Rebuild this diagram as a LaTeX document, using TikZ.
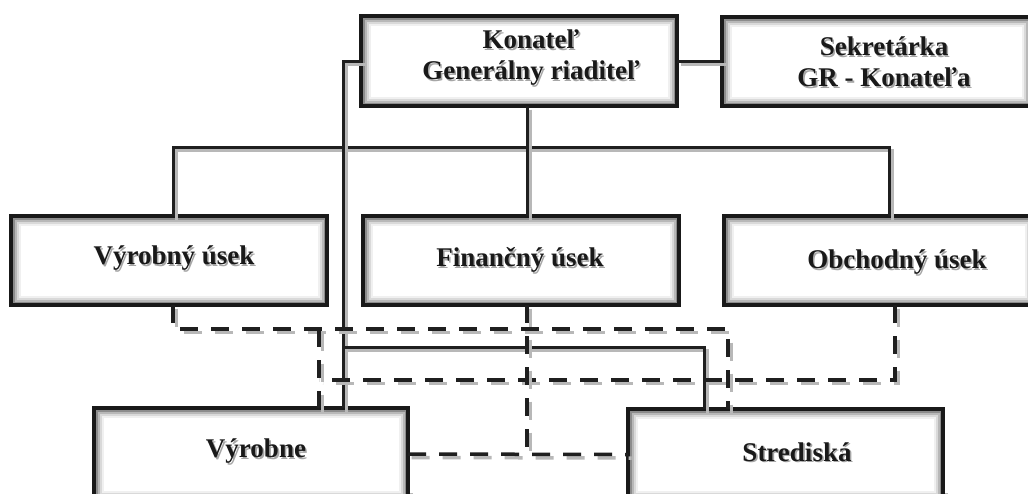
\documentclass[tikz,border=0pt]{standalone}
\usepackage{fontspec}
\setmainfont{Liberation Serif}
\usetikzlibrary{calc,backgrounds}
\tikzset{
  orgbox/.style={draw=black!90, line width=3.5pt, fill=white, inner sep=0pt, outer sep=0pt, anchor=north west,
    path picture={
      \foreach \i/\c in {2.5/45,4.5/28,6.5/15,8.5/6}{
        \draw[line width=2pt, black!\c]
          ([shift={(\i pt,-\i pt)}]path picture bounding box.north west) rectangle
          ([shift={(-\i pt,\i pt)}]path picture bounding box.south east);
      }}},
  txt/.style={font=\fontsize{27}{31}\selectfont\bfseries, align=center, inner sep=0pt},
  solidln/.style={line width=3pt, draw=black!88},
  dashln/.style={line width=3.5pt, draw=black!88, dash pattern=on 18pt off 13pt},
  shd/.style={draw=black!28, transform canvas={shift={(3.5pt,-3.5pt)}}},
  boxshd/.style={draw=black!28, line width=3.5pt, transform canvas={shift={(3pt,-3pt)}}},
}
\newcommand{\boxlabel}[3]{%
  \node[txt,text=black!35] at ([shift={(1.6pt,-1.6pt)}]#2) {#3};
  \node[txt,text=black!90] (#1) at (#2) {#3};}
\newcommand{\conn}[2]{\draw[#1,shd] #2; \draw[#1] #2;}
\begin{document}
\begin{tikzpicture}[x=1pt,y=-1pt]
\useasboundingbox (0,0) rectangle (1028,493);
\clip (0,0) rectangle (1028,493);
\fill[white] (0,0) rectangle (1028,493);

% boxes
\node[orgbox, minimum width=316pt, minimum height=90pt] (kon) at (361,16) {};
\node[orgbox, minimum width=309pt, minimum height=89pt] (sek) at (722,17) {};
\node[orgbox, minimum width=316pt, minimum height=89pt] (vu) at (11,216) {};
\node[orgbox, minimum width=316pt, minimum height=89pt] (fu) at (363,216) {};
\node[orgbox, minimum width=310pt, minimum height=89pt] (ou) at (724,216) {};
\node[orgbox, minimum width=314pt, minimum height=92pt] (vy) at (94,408) {};
\node[orgbox, minimum width=315pt, minimum height=91pt] (st) at (628,409) {};

\begin{scope}[on background layer]
  \foreach \b in {kon,sek,vu,fu,ou,vy,st}{
    \draw[boxshd] (\b.north west) rectangle (\b.south east);
  }
\end{scope}

% labels
\boxlabel{konL}{531,58}{Konateľ\\Generálny riaditeľ}
\boxlabel{sekL}{884,62}{Sekretárka\\GR - Konateľa}
\boxlabel{vuL}{174,258}{Výrobný úsek}
\boxlabel{fuL}{520,260}{Finančný úsek}
\boxlabel{ouL}{897,262}{Obchodný úsek}
\boxlabel{vyL}{256,451}{Výrobne}
\boxlabel{stL}{797,452}{Strediská}

% junction coordinates
\coordinate (busL) at (173,147);
\coordinate (busM) at (527,147);
\coordinate (busR) at (889,147);
\coordinate (spine) at (343,347);
\coordinate (spR) at (704,347);
\coordinate (dA) at (173,329);
\coordinate (dB) at (728,329);
\coordinate (dC) at (319,329);
\coordinate (dD) at (319,380);
\coordinate (dE) at (895,380);
\coordinate (dF) at (527,455);

% solid connectors
\conn{solidln}{(kon.east) -- (kon.east -| sek.west)}
\conn{solidln}{(busL |- vu.north) -- (busL) -- (busR) -- (busR |- ou.north)}
\conn{solidln}{(busM |- kon.south) -- (busM |- fu.north)}
\conn{solidln}{(kon.west) -| (spine |- vy.north)}
\conn{solidln}{(spine) -- (spR) -- (spR |- st.north)}

% dashed connectors
\conn{dashln}{(dA |- vu.south) -- (dA) -- (dB) -- (dB |- st.north)}
\conn{dashln}{(dC) -- (dC |- vy.north)}
\conn{dashln}{(dE |- ou.south) -- (dE) -- (dD)}
\conn{dashln}{(dF |- fu.south) -- (dF)}
\conn{dashln}{(vy.east) -- (st.west)}
\end{tikzpicture}
\end{document}
